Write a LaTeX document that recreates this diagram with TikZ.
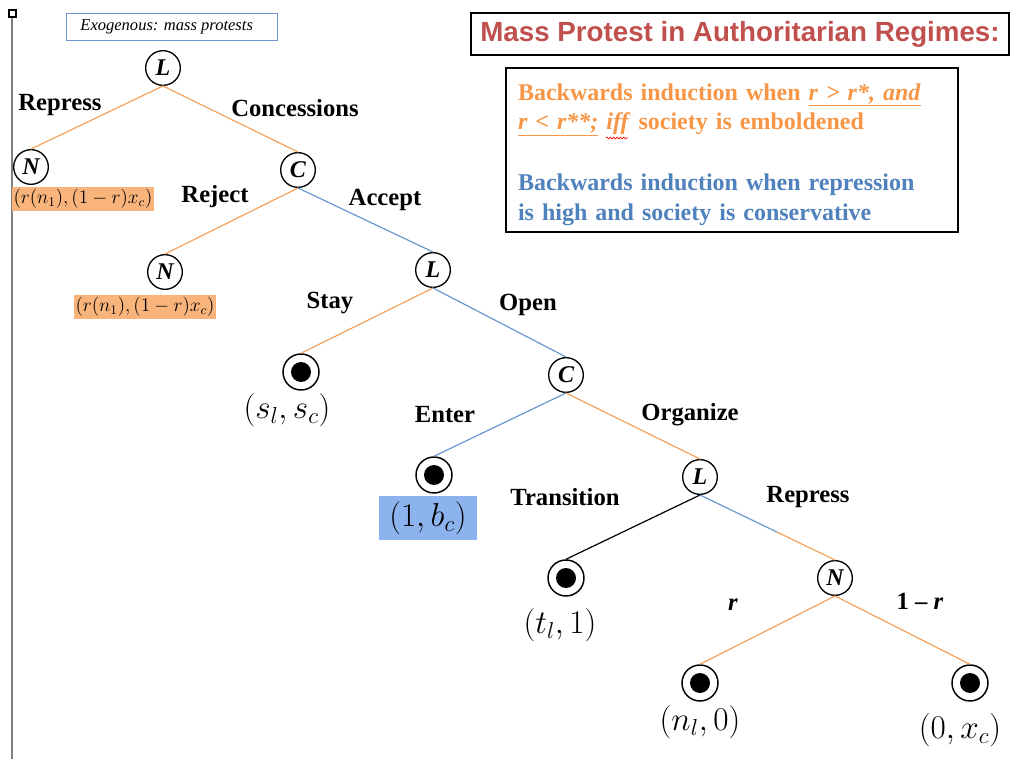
\documentclass[tikz,border=0pt]{standalone}
\usepackage{fontspec}
\setmainfont{Liberation Serif}
\newfontfamily\titlefont{Liberation Sans}
\usetikzlibrary{calc,decorations.pathmorphing}
\definecolor{edgeorange}{HTML}{F4A25E}
\definecolor{edgeblue}{HTML}{6A97CF}
\definecolor{payorange}{HTML}{F9B47C}
\definecolor{payblue}{HTML}{8DB3EE}
\definecolor{titlered}{HTML}{C0504D}
\definecolor{textorange}{HTML}{F79646}
\definecolor{textblue}{HTML}{4F81BD}
\tikzset{
  dnode/.style={circle, draw, line width=1pt, minimum size=26pt, inner sep=0pt,
    font=\fontsize{18}{18}\selectfont\bfseries\itshape},
  term/.style={circle, draw, line width=1.1pt, minimum size=27pt, inner sep=0pt,
    path picture={\fill (path picture bounding box.center) circle (7.5pt);}},
  act/.style={font=\fontsize{18.5}{21}\selectfont\bfseries},
  pay/.style={font=\fontsize{27}{30}\selectfont, inner sep=1pt},
  smallpay/.style={fill=payorange, font=\fontsize{14}{16}\selectfont, inner sep=1.5pt},
  oedge/.style={draw=edgeorange, line width=0.9pt},
  bedge/.style={draw=edgeblue, line width=0.9pt},
}
\begin{document}
\begin{tikzpicture}[x=0.75pt, y=-0.75pt]
\useasboundingbox (0,0) rectangle (1011,759);
% left margin line
\draw[gray, line width=0.8pt] (12,16) -- (12,759);
\draw[fill=white, line width=0.8pt] (9,10) rectangle (16,17);

% title and legend
\node[draw=edgeblue, line width=0.6pt, minimum width=158pt, minimum height=20pt,
  font=\fontsize{12.4}{14}\selectfont\itshape] (exo) at (172,27) {Exogenous: mass protests\hspace*{8pt}};
\node[draw, line width=1.5pt, minimum width=403pt, minimum height=32pt, text=titlered,
  font=\fontsize{20.8}{24}\selectfont\titlefont\bfseries] (title) at (740,34)
  {Mass Protest in Authoritarian Regimes:};
\node[draw, line width=1.5pt, minimum width=339pt, minimum height=123pt, inner xsep=9pt,
  text width=321pt, align=left, font=\fontsize{18}{22}\selectfont\bfseries] (rule) at (732,150)
  {\rule{0pt}{19pt}\textcolor{textorange}{Backwards induction when \underline{\textit{r > r*, and}}\\
   \underline{\textit{r < r**;}} \textit{iff} society is emboldened}\\[24pt]
   \textcolor{textblue}{Backwards induction when repression\\is high and society is conservative}};
\draw[red, line width=0.5pt, decorate, decoration={snake, amplitude=0.7pt, segment length=2.5pt}]
  (606,138) -- (628,138);

% decision nodes
\node[dnode] (L1) at (163,68) {L};
\node[dnode] (N1) at (31,167) {N};
\node[dnode] (C1) at (298,170) {C};
\node[dnode] (N2) at (165,272) {N};
\node[dnode] (L2) at (433,270) {L};
\node[dnode] (C2) at (566,375) {C};
\node[dnode] (L3) at (700,477) {L};
\node[dnode] (N3) at (835,578) {N};
% end nodes
\node[term] (T1) at (301,372) {};
\node[term] (T2) at (434,475) {};
\node[term] (T3) at (566,578) {};
\node[term] (T4) at (700,683) {};
\node[term] (T5) at (970,683) {};

% branches
\draw[oedge] (L1.south) -- (N1.north);
\draw[oedge] (L1.south) -- (C1.north);
\draw[oedge] (C1.south) -- (N2.north);
\draw[bedge] (C1.south) -- (L2.north);
\draw[oedge] (L2.south) -- (T1.north);
\draw[bedge] (L2.south) -- (C2.north);
\draw[bedge] (C2.south) -- (T2.north);
\draw[oedge] (C2.south) -- (L3.north);
\draw[line width=0.9pt] (L3.south) -- (T3.north);
\coordinate (mid) at ($(L3.south)!0.57!(N3.north)$);
\draw[bedge] (L3.south) -- (mid);
\draw[oedge] (mid) -- (N3.north);
\draw[oedge] (N3.south) -- (T4.north);
\draw[oedge] (N3.south) -- (T5.north);

% actions
\node[act] (a1) at (60,105) {Repress};
\node[act] (a2) at (295,108) {Concessions};
\node[act] (a3) at (215,197) {Reject};
\node[act] (a4) at (385,200) {Accept};
\node[act] (a5) at (330,303) {Stay};
\node[act] (a6) at (528,305) {Open};
\node[act] (a7) at (445,415) {Enter};
\node[act] (a8) at (690,415) {Organize};
\node[act] (a9) at (565,497) {Transition};
\node[act] (a10) at (808,497) {Repress};
\node[act] (p1) at (733,605) {\textit{r}};
\node[act] (p2) at (920,601) {1 -- \textit{r}};

% payoffs
\node[smallpay] (u1) at (83,199) {$(r(n_1),(1-r)x_c)$};
\node[smallpay] (u2) at (145,307) {$(r(n_1),(1-r)x_c)$};
\node[pay] (u3) at (287,410) {$(s_l,s_c)$};
\node[pay, fill=payblue, minimum width=74pt, minimum height=33pt] (u4) at (428,518) {$(1,b_c)$};
\node[pay] (u5) at (560,625) {$(t_l,1)$};
\node[pay] (u6) at (700,722) {$(n_l,0)$};
\node[pay] (u7) at (960,730) {$(0,x_c)$};
\end{tikzpicture}
\end{document}
